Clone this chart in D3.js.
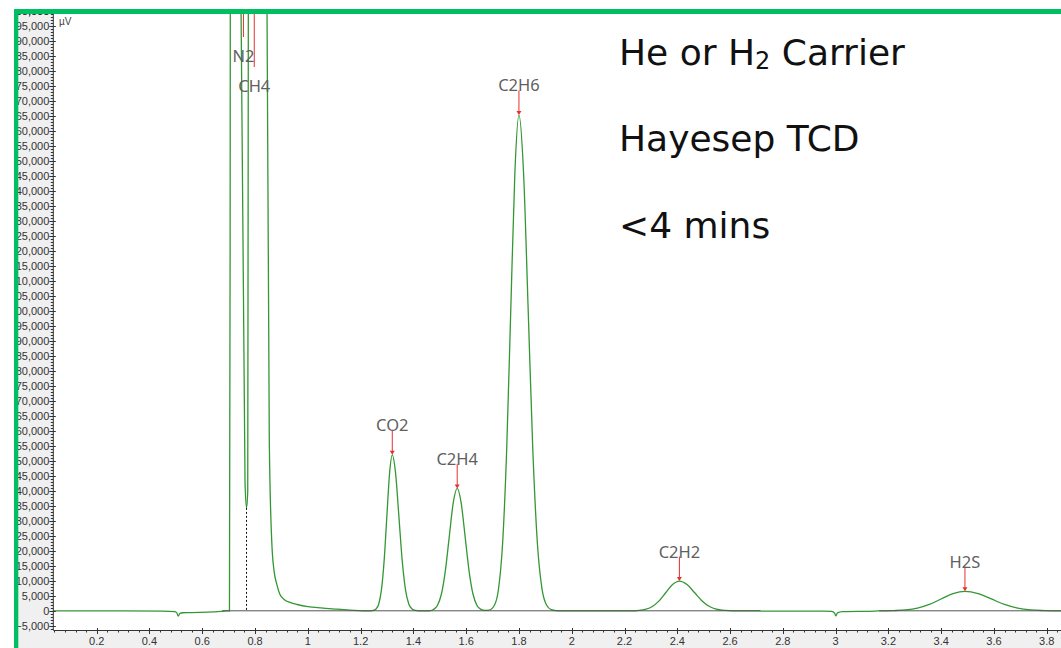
<!DOCTYPE html>
<html>
<head>
<meta charset="utf-8"/>
<title>Hayesep TCD - He or H2 carrier</title>
<style>
  body, html {margin:0;padding:0;background:#fff;overflow:hidden;}
  svg {display:block;}
</style>
<script src="https://cdn.jsdelivr.net/npm/d3@7"></script>
</head>
<body>
<svg id="chart" width="1061" height="648"></svg>
<script>
// detector trace: time (min) / signal (µV)
var traceTime = [
  0.036, 0.30, 0.45, 0.495, 0.503, 0.509, 0.515, 0.525, 0.56, 0.62, 0.67, 0.695, 0.703,
  0.7055, 0.708, 0.715, 0.728, 0.740, 0.747, 0.762, 0.7677, 0.7723, 0.7745, 0.782, 0.800, 0.825, 0.840,
  0.8454, 0.854, 0.8632, 0.872, 0.882, 0.894, 0.910, 0.935, 0.960, 1.000, 1.050, 1.110, 1.160, 1.210,
  1.238, 1.248, 1.2585, 1.2688, 1.279, 1.2893, 1.2995, 1.3098, 1.320, 1.3325, 1.345, 1.3575, 1.370, 1.3825, 1.395, 1.4075, 1.420,
  1.461, 1.476, 1.491, 1.506, 1.521, 1.536, 1.551, 1.566, 1.581, 1.596, 1.611, 1.626, 1.641, 1.656, 1.671, 1.686,
  1.707, 1.7225, 1.738, 1.7535, 1.769, 1.7845, 1.800, 1.8175, 1.835, 1.8525, 1.870, 1.8875, 1.905, 1.9225, 1.940, 1.960,
  2.235, 2.252, 2.278, 2.304, 2.330, 2.356, 2.382, 2.408, 2.437, 2.466, 2.495, 2.524, 2.553, 2.582, 2.610,
  2.700, 2.720, 2.950, 2.985, 2.996, 3.001, 3.007, 3.025, 3.150, 3.170, 3.195,
  3.220, 3.265, 3.310, 3.355, 3.400, 3.445, 3.490, 3.540, 3.590, 3.640, 3.690, 3.740, 3.790, 3.820, 3.854
];
var traceSignal = [
  0, 0, -100, -250, -600, -1800, -900, -650, -620, -450, -200, -30, 0,
  120000, 420000, 700000, 720000, 480000, 200000, 43000, 34300, 40000, 200000, 520000, 640000, 560000, 330000,
  200000, 56700, 23300, 13300, 9000, 5500, 3800, 2700, 2100, 1400, 950, 560, 250, 0,
  0, 110, 580, 2280, 7040, 16880, 31540, 45890, 52000, 45890, 31540, 16880, 7040, 2280, 580, 110, 0,
  0, 453, 1791, 5520, 13248, 24745, 36006, 40800, 36006, 24745, 13248, 5520, 1791, 453, 130, 200,
  1835, 7257, 22365, 53673, 100254, 145877, 165300, 145877, 100254, 53673, 22365, 7257, 1835, 360, 55, 0,
  0, 110, 435, 1340, 3215, 6004, 8737, 9900, 8737, 6004, 3215, 1340, 435, 110, 0,
  0, -100, -100, -200, -800, -1700, -700, -250, -100, 0, 0,
  72, 285, 880, 2111, 3942, 5736, 6500, 5736, 3942, 2111, 880, 285, 72, 0, 0
];

// identified peaks
var peakNames   = ["N2", "CH4", "CO2", "C2H4", "C2H6", "C2H2", "H2S"];
var peakTimes   = [0.756, 0.797, 1.320, 1.566, 1.800, 2.408, 3.490];
var peakHeights = [720000, 640000, 52000, 40800, 165300, 9900, 6500];

// integration baselines and the drop line between N2 and CH4
var baseStart = [0.675, 3.165];
var baseEnd   = [2.715, 3.854];
var dropTimes  = [0.7677];
var dropValues = [34300];

// axis ticks
var xTickLabels = [0.2, 0.4, 0.6, 0.8, 1, 1.2, 1.4, 1.6, 1.8, 2, 2.2, 2.4, 2.6, 2.8, 3, 3.2, 3.4, 3.6, 3.8];
var yTickLabels = d3.range(-5000, 200001, 5000);

var infoLines = [["He or H", "2", " Carrier"], ["Hayesep TCD"], ["<4 mins"]];

var W = 1061, H = 648;
var plotL = 53.3, plotR = 1061, plotT = 14, plotB = 630;

var x = d3.scaleLinear().domain([0.0355, 3.854]).range([plotL, plotR]);
var y = d3.scaleLinear().domain([0, 200000]).range([610.8, 10.8]);

var svg = d3.select("#chart");

// grey axis strips, white plot area
svg.append("rect").attr("width", W).attr("height", H).attr("fill", "#f0f0f0");
svg.append("rect").attr("x", plotL).attr("y", 0).attr("width", plotR - plotL).attr("height", plotB).attr("fill", "#fff");

svg.append("clipPath").attr("id", "plotclip")
  .append("rect").attr("x", plotL).attr("y", plotT).attr("width", plotR - plotL).attr("height", plotB - plotT);

var plot = svg.append("g").attr("clip-path", "url(#plotclip)");

var pts = traceTime.map(function (t, i) { return [t, traceSignal[i]]; });
var line = d3.line()
  .x(function (d) { return x(d[0]); })
  .y(function (d) { return y(d[1]); })
  .curve(d3.curveMonotoneX);

plot.append("path").datum(pts)
  .attr("d", line)
  .attr("fill", "none")
  .attr("stroke", "#339733")
  .attr("stroke-width", 1.3);

// baseline segments drawn over the trace
plot.selectAll("line.base").data(baseStart).enter().append("line")
  .attr("class", "base")
  .attr("x1", function (d) { return x(d); })
  .attr("x2", function (d, i) { return x(baseEnd[i]); })
  .attr("y1", y(0)).attr("y2", y(0))
  .attr("stroke", "#555").attr("stroke-width", 1);

plot.selectAll("line.drop").data(dropTimes).enter().append("line")
  .attr("class", "drop")
  .attr("x1", function (d) { return x(d); })
  .attr("x2", function (d) { return x(d); })
  .attr("y1", function (d, i) { return y(dropValues[i]); })
  .attr("y2", y(0))
  .attr("stroke", "#111").attr("stroke-width", 1).attr("stroke-dasharray", "2,2");

// peak labels with red markers
var yMax = y.invert(plotT);
var offIdx = 0;
peakNames.forEach(function (name, i) {
  var xp = x(peakTimes[i]);
  var g = plot.append("g");
  if (peakHeights[i] < yMax) {
    var tip = y(peakHeights[i]);
    var base = tip - 23.5;
    g.append("line").attr("x1", xp).attr("x2", xp).attr("y1", base - 1).attr("y2", tip - 3)
      .attr("stroke", "#e53030").attr("stroke-width", 1);
    g.append("path").attr("d", "M" + (xp - 2.5) + "," + (tip - 4) + "L" + (xp + 2.5) + "," + (tip - 4) + "L" + xp + "," + tip + "Z")
      .attr("fill", "#e53030");
    g.append("text").attr("x", xp).attr("y", base).text(name);
  } else {
    var lb = plotT + 48 + offIdx * 30;
    offIdx++;
    g.append("line").attr("x1", xp).attr("x2", xp).attr("y1", plotT).attr("y2", lb - 25)
      .attr("stroke", "#e53030").attr("stroke-width", 1);
    g.append("text").attr("x", xp).attr("y", lb).text(name);
  }
  g.select("text")
    .attr("text-anchor", "middle")
    .attr("font-family", "'Noto Sans', 'Open Sans', sans-serif")
    .attr("font-size", "16.5px")
    .attr("fill", "#5f5f5f");
});

// y axis
var yAxis = svg.append("g").attr("clip-path", "url(#axisclip)");
svg.append("clipPath").attr("id", "axisclip")
  .append("rect").attr("x", 18).attr("y", plotT).attr("width", W).attr("height", H);

var yMinor = d3.range(-6000, 203001, 1000).filter(function (v) { return v % 5000 !== 0; });
yAxis.selectAll("line.ymin").data(yMinor).enter().append("line")
  .attr("x1", plotL - 2.5).attr("x2", plotL)
  .attr("y1", function (d) { return Math.round(y(d)) + 0.5; })
  .attr("y2", function (d) { return Math.round(y(d)) + 0.5; })
  .attr("stroke", "#333");
yAxis.selectAll("line.ymaj").data(yTickLabels.concat([200000])).enter().append("line")
  .attr("x1", plotL - 4).attr("x2", plotL + 2.5)
  .attr("y1", function (d) { return Math.round(y(d)) + 0.5; })
  .attr("y2", function (d) { return Math.round(y(d)) + 0.5; })
  .attr("stroke", "#333");
yAxis.selectAll("text").data(yTickLabels.concat([200000])).enter().append("text")
  .attr("x", plotL - 4)
  .attr("y", function (d) { return y(d); })
  .attr("dy", "0.36em")
  .attr("text-anchor", "end")
  .attr("font-family", "'Liberation Sans', Arial, sans-serif")
  .attr("font-size", "11px")
  .attr("fill", "#333")
  .text(d3.format(","));
yAxis.append("line").attr("x1", plotL).attr("x2", plotL).attr("y1", plotT).attr("y2", plotB)
  .attr("stroke", "#333");

svg.append("text").attr("x", 59).attr("y", 25).text("µV")
  .attr("font-family", "'Liberation Sans', Arial, sans-serif")
  .attr("font-size", "10px").attr("fill", "#444");

// x axis
var xAxis = svg.append("g");
var xMinor = d3.range(0.04, 3.85, 0.04).filter(function (v) { return Math.abs(v * 5 - Math.round(v * 5)) > 1e-6; });
xAxis.selectAll("line.xmin").data(xMinor).enter().append("line")
  .attr("x1", function (d) { return Math.round(x(d)) + 0.5; })
  .attr("x2", function (d) { return Math.round(x(d)) + 0.5; })
  .attr("y1", plotB).attr("y2", plotB + 2.5)
  .attr("stroke", "#333");
xAxis.selectAll("line.xmaj").data(xTickLabels).enter().append("line")
  .attr("x1", function (d) { return Math.round(x(d)) + 0.5; })
  .attr("x2", function (d) { return Math.round(x(d)) + 0.5; })
  .attr("y1", plotB - 2).attr("y2", plotB + 4)
  .attr("stroke", "#333");
xAxis.selectAll("text").data(xTickLabels).enter().append("text")
  .attr("x", function (d) { return x(d); })
  .attr("y", plotB + 15)
  .attr("text-anchor", "middle")
  .attr("font-family", "'Liberation Sans', Arial, sans-serif")
  .attr("font-size", "11px")
  .attr("fill", "#333")
  .text(function (d) { return String(d); });
xAxis.append("line").attr("x1", plotL).attr("x2", plotR).attr("y1", plotB + 0.5).attr("y2", plotB + 0.5)
  .attr("stroke", "#333");

// annotation block
var info = svg.append("g")
  .attr("font-family", "'DejaVu Sans', Verdana, sans-serif")
  .attr("font-size", "36px")
  .attr("fill", "#111");
var infoBase = [65, 151, 238];
infoLines.forEach(function (parts, i) {
  var t = info.append("text").attr("x", 619).attr("y", infoBase[i]);
  parts.forEach(function (p, k) {
    var s = t.append("tspan").text(p);
    if (k % 2 === 1) s.attr("font-size", "24px").attr("dy", 4);
    else if (k > 0) s.attr("dy", -4);
  });
});

// frame of the screenshot
svg.append("rect").attr("x", 0).attr("y", 0).attr("width", W).attr("height", 9).attr("fill", "#fff");
svg.append("rect").attr("x", 0).attr("y", 0).attr("width", 14).attr("height", H).attr("fill", "#fff");
svg.append("rect").attr("x", 14).attr("y", 9).attr("width", 4.3).attr("height", H - 9).attr("fill", "#00bf63");
svg.append("rect").attr("x", 14).attr("y", 9).attr("width", W - 14).attr("height", 5).attr("fill", "#00bf63");
</script>
</body>
</html>
